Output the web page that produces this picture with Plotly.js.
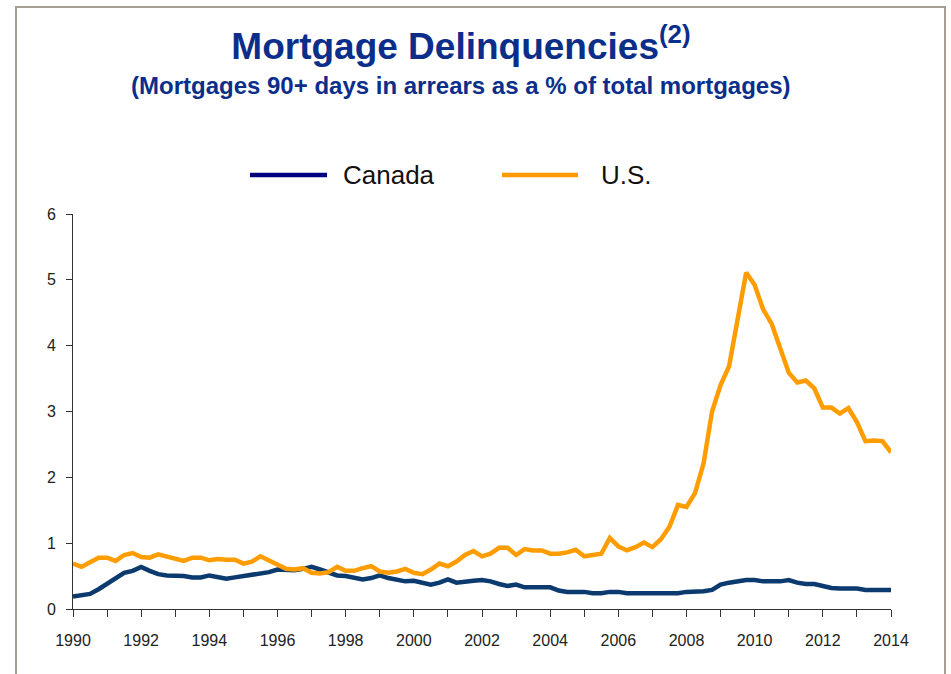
<!DOCTYPE html>
<html>
<head>
<meta charset="utf-8">
<script src="https://cdn.plot.ly/plotly-3.0.1.min.js"></script>
<style>html,body{margin:0;padding:0;background:#fff;}#chart{width:951px;height:674px;}</style>
</head>
<body>
<div id="chart"></div>
<script>
// Quarterly observations, Q1 1990 .. Q1 2014
const startYear = 1990;
const canada = [
  0.19,0.21,0.23,0.30, 0.38,0.46,0.55,0.58, 0.64,0.58,0.53,0.51, 0.51,0.50,0.48,0.48,
  0.51,0.48,0.46,0.48, 0.50,0.52,0.55,0.56, 0.60,0.60,0.59,0.61, 0.64,0.60,0.55,0.51,
  0.50,0.47,0.45,0.47, 0.51,0.47,0.45,0.42, 0.43,0.40,0.37,0.40, 0.45,0.40,0.42,0.43,
  0.44,0.42,0.38,0.35, 0.37,0.33,0.33,0.33, 0.33,0.28,0.26,0.26, 0.26,0.24,0.24,0.26,
  0.26,0.24,0.24,0.24, 0.24,0.24,0.24,0.24, 0.26,0.26,0.27,0.29, 0.37,0.40,0.42,0.44,
  0.44,0.42,0.42,0.42, 0.44,0.40,0.38,0.38, 0.35,0.32,0.31,0.31, 0.31,0.29,0.29,0.29,
  0.29
];
const us = [
  0.69,0.64,0.71,0.78, 0.78,0.73,0.82,0.85, 0.79,0.78,0.83,0.80, 0.76,0.73,0.78,0.78,
  0.74,0.76,0.75,0.75, 0.69,0.72,0.80,0.74, 0.68,0.61,0.60,0.62, 0.55,0.54,0.56,0.64,
  0.58,0.58,0.62,0.65, 0.57,0.55,0.57,0.61, 0.55,0.53,0.60,0.69, 0.65,0.72,0.82,0.88,
  0.80,0.84,0.93,0.93, 0.82,0.91,0.89,0.89, 0.84,0.84,0.86,0.90, 0.80,0.82,0.84,1.08,
  0.95,0.89,0.94,1.01, 0.94,1.06,1.25,1.58, 1.55,1.76,2.21,3.00, 3.40,3.69,4.40,5.11,
  4.92,4.55,4.33,3.97, 3.59,3.44,3.47,3.35, 3.06,3.06,2.97,3.05, 2.84,2.55,2.56,2.55,
  2.38
];
const labelYears = [1990,1992,1994,1996,1998,2000,2002,2004,2006,2008,2010,2012,2014];
const yTicks = [0,1,2,3,4,5,6];
const seriesNames = ['Canada', 'U.S.'];

const xq = canada.map((_, i) => startYear + i / 4);

const cCanada = '#0B3A6E';
const cUS = '#FF9C00';
const titleBlue = '#0B2E8A';

const traces = [
  {x: xq, y: canada, type: 'scatter', mode: 'lines', name: seriesNames[0], showlegend: false,
   line: {color: cCanada, width: 4.5}},
  {x: xq, y: us, type: 'scatter', mode: 'lines', name: seriesNames[1], showlegend: false,
   line: {color: cUS, width: 4.5}}
];

const W = 818, H = 395, L = 73, T = 214;
const px = v => (v - L) / W;
const py = v => (T + H - v) / H;

const layout = {
  width: 951, height: 674,
  margin: {l: L, r: 951 - L - W, t: T, b: 674 - T - H},
  paper_bgcolor: '#fff', plot_bgcolor: '#fff',
  font: {family: 'Liberation Sans, Arial, sans-serif', color: '#222'},
  title: {
    text: 'Mortgage Delinquencies<sup>(2)</sup>',
    font: {family: 'Liberation Sans, Arial, sans-serif', size: 37, color: titleBlue, weight: 'bold'},
    x: 461 / 951, xanchor: 'center', xref: 'container',
    y: 1 - 46 / 674, yanchor: 'middle', yref: 'container'
  },
  xaxis: {
    range: [1990, 2014], tickmode: 'array', tickvals: labelYears,
    ticks: 'outside', ticklen: 7, tickcolor: '#333', tickwidth: 1,
    minor: {dtick: 1, tick0: 1990, ticks: 'outside', ticklen: 7, tickcolor: '#333', tickwidth: 1, showgrid: false},
    showline: true, linecolor: '#333', linewidth: 1, showgrid: false, zeroline: false,
    tickfont: {size: 16, color: '#222'}, ticklabelstandoff: 10, fixedrange: true
  },
  yaxis: {
    range: [0, 6], tickmode: 'array', tickvals: yTicks,
    ticks: 'outside', ticklen: 6, tickcolor: '#333', tickwidth: 1,
    showline: true, linecolor: '#333', linewidth: 1, showgrid: false, zeroline: false,
    tickfont: {size: 16, color: '#222'}, ticklabelstandoff: 7, fixedrange: true
  },
  showlegend: false,
  annotations: [
    {text: '<b>(Mortgages 90+ days in arrears as a % of total mortgages)</b>',
     xref: 'paper', yref: 'paper', x: px(461), y: py(85), xanchor: 'center', yanchor: 'middle',
     showarrow: false, font: {size: 24, color: titleBlue}},
    {text: seriesNames[0], xref: 'paper', yref: 'paper', x: px(341), y: py(175),
     xanchor: 'left', yanchor: 'middle', showarrow: false, font: {size: 26, color: '#111'}},
    {text: seriesNames[1], xref: 'paper', yref: 'paper', x: px(599), y: py(175),
     xanchor: 'left', yanchor: 'middle', showarrow: false, font: {size: 26, color: '#111'}}
  ],
  shapes: [
    {type: 'rect', xref: 'paper', yref: 'paper', x0: px(16), x1: px(945), y0: py(690), y1: py(7),
     line: {color: '#A69E90', width: 2}, fillcolor: 'rgba(0,0,0,0)', layer: 'below'},
    {type: 'line', xref: 'paper', yref: 'paper', x0: px(250), x1: px(327), y0: py(175), y1: py(175),
     line: {color: '#000080', width: 4.5}},
    {type: 'line', xref: 'paper', yref: 'paper', x0: px(502), x1: px(578), y0: py(175), y1: py(175),
     line: {color: '#FF9900', width: 4.5}}
  ]
};

Plotly.newPlot('chart', traces, layout, {displayModeBar: false, staticPlot: true});
</script>
</body>
</html>
